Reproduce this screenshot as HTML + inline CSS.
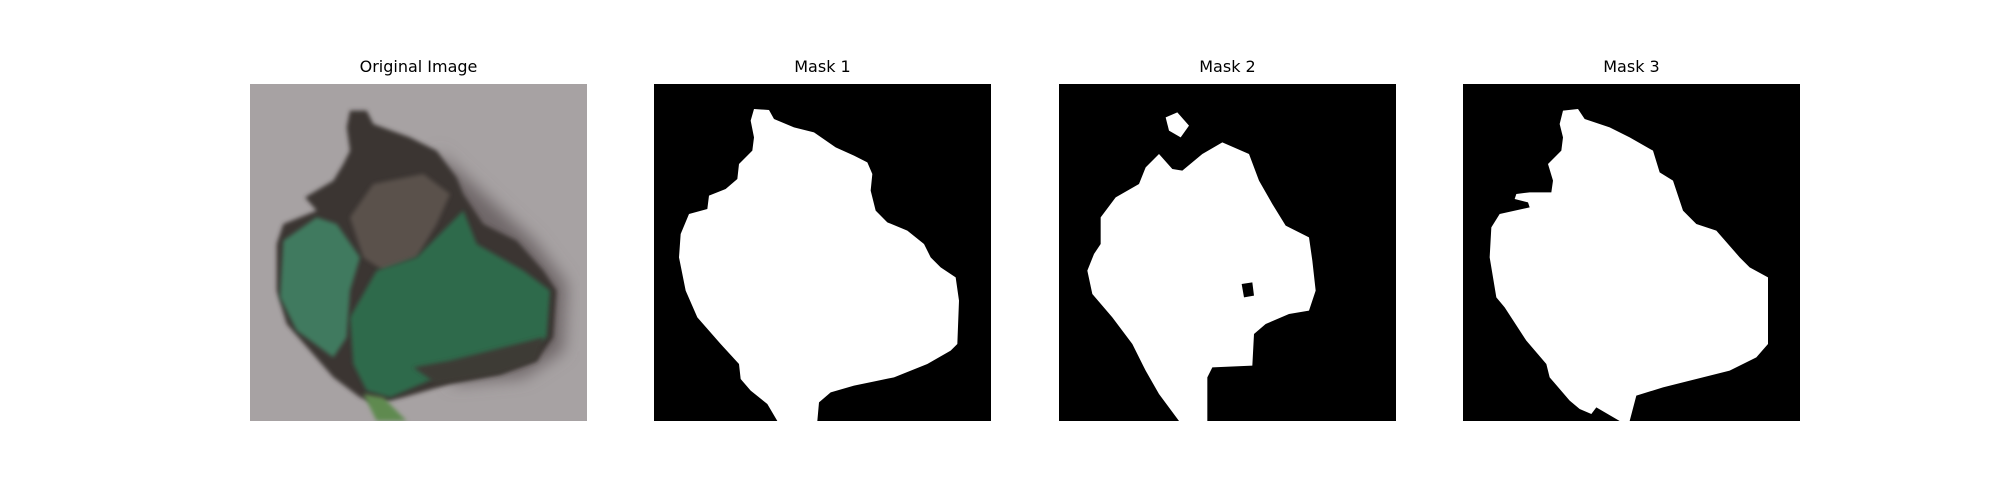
<!DOCTYPE html>
<html><head><meta charset="utf-8"><style>
html,body{margin:0;padding:0;background:#fff;}
#fig{position:relative;width:2000px;height:500px;overflow:hidden;font-family:"DejaVu Sans","Liberation Sans",sans-serif;}
.panel{position:absolute;top:84px;width:337px;height:337px;}
.title{position:absolute;top:57px;width:337px;text-align:center;font-size:16px;color:#000;}
svg{display:block}
</style></head><body>
<div id="fig">
  <div class="title" style="left:250px">Original Image</div>
  <div class="title" style="left:654px">Mask 1</div>
  <div class="title" style="left:1059px">Mask 2</div>
  <div class="title" style="left:1463px">Mask 3</div>

  <div class="panel" style="left:250px">
    <svg width="337" height="337" viewBox="0 0 1011 1011">
      <defs><filter id="b"><feGaussianBlur stdDeviation="6"/></filter>
      <filter id="b2"><feGaussianBlur stdDeviation="25"/></filter></defs>
      <rect width="1011" height="1011" fill="#a7a2a3"/>
      <path filter="url(#b2)" fill="#6e6667" d="M560,200 L700,330 L850,470 L950,600 L940,800 L820,880 L600,900 L700,700 Z"/>
      <path filter="url(#b)" fill="#3a3431" d="M300,80 L350,80 L370,120 L480,160 L560,200 L620,280 L640,330 L700,420 L800,470 L880,560 L920,620 L910,760 L860,830 L750,870 L600,900 L460,940 L380,960 L330,940 L250,880 L180,800 L110,720 L80,620 L80,480 L100,420 L200,380 L165,340 L250,290 L280,240 L300,200 L290,130 Z"/>
      <path filter="url(#b)" fill="#5a514c" d="M370,300 L520,270 L600,330 L560,420 L500,520 L400,560 L340,520 L300,400 Z"/>
      <path filter="url(#b)" fill="#3f7a5e" d="M100,470 L200,400 L260,420 L330,520 L300,620 L290,760 L250,820 L140,740 L90,640 Z"/>
      <path filter="url(#b)" fill="#2f6a4c" d="M300,700 L380,560 L500,520 L600,420 L640,380 L680,480 L820,560 L900,620 L890,760 L760,840 L560,880 L420,940 L350,920 L310,840 Z"/>
      <path filter="url(#b)" fill="#3d3a35" d="M490,850 L600,830 L760,790 L880,760 L860,830 L750,870 L560,900 Z"/>
      <path filter="url(#b)" fill="#5f8a50" d="M340,930 L400,940 L470,1011 L380,1011 Z"/>
    </svg>
  </div>

  <div class="panel" style="left:654px">
    <svg width="337" height="337" viewBox="0 0 1011 1011">
      <rect width="1011" height="1011" fill="#000"/>
      <path fill="#fff" d="M300,75 L345,78 L360,105 L420,130 L480,145 L545,190 L600,215 L640,235 L655,270 L650,320 L665,380 L700,415 L760,440 L810,480 L830,520 L860,550 L905,580 L915,650 L910,780 L890,800 L820,840 L720,880 L600,905 L530,925 L495,955 L490,1011 L370,1011 L340,960 L290,920 L260,885 L255,840 L200,780 L130,700 L95,620 L75,520 L80,450 L105,390 L160,375 L165,335 L215,315 L250,285 L255,240 L295,200 L300,160 L290,110 Z"/>
    </svg>
  </div>

  <div class="panel" style="left:1059px">
    <svg width="337" height="337" viewBox="0 0 1011 1011">
      <rect width="1011" height="1011" fill="#000"/>
      <path fill="#fff" d="M320,100 L355,85 L390,125 L365,160 L330,140 Z"/>
      <path fill="#fff" d="M260,250 L300,210 L340,255 L370,260 L430,210 L490,175 L570,210 L600,290 L640,360 L680,425 L750,460 L760,530 L770,620 L750,680 L690,690 L620,720 L585,750 L580,845 L460,850 L445,880 L445,1011 L360,1011 L300,930 L260,860 L220,780 L160,700 L100,630 L85,560 L105,510 L125,480 L125,400 L170,340 L240,300 Z"/>
      <path fill="#000" d="M548,600 L580,595 L585,635 L555,640 Z"/>
    </svg>
  </div>

  <div class="panel" style="left:1463px">
    <svg width="337" height="337" viewBox="0 0 1011 1011">
      <rect width="1011" height="1011" fill="#000"/>
      <path fill="#fff" d="M300,80 L345,75 L365,105 L440,130 L500,160 L570,200 L590,265 L630,290 L660,380 L700,420 L760,440 L830,520 L860,550 L915,580 L915,780 L880,820 L800,860 L700,885 L600,910 L520,935 L500,1011 L470,1011 L400,970 L385,990 L350,975 L320,950 L260,880 L250,840 L190,770 L125,670 L100,640 L80,520 L85,430 L110,390 L200,370 L195,355 L155,345 L160,330 L200,325 L265,325 L270,290 L255,240 L295,200 L300,160 L290,120 Z"/>
    </svg>
  </div>
</div>
</body></html>
